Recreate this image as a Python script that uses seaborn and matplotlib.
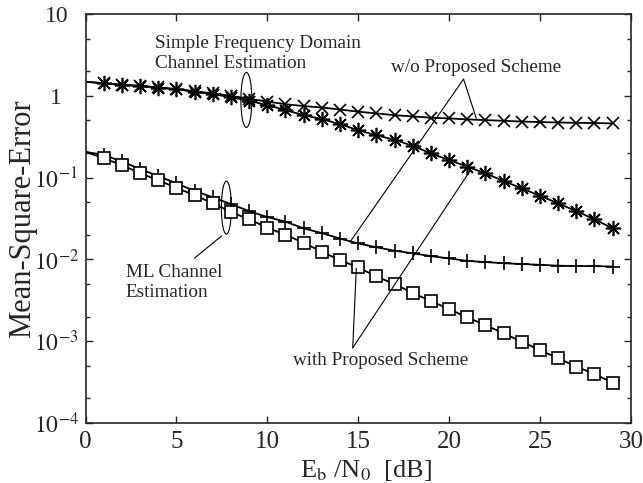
import numpy as np
import pandas as pd
import seaborn as sns
import matplotlib
matplotlib.use("Agg")
import matplotlib.pyplot as plt
from matplotlib.patches import Ellipse
from matplotlib.transforms import ScaledTranslation

# Eb/N0 in dB (line starts at 0, markers at 1..29)
snr = list(range(0, 30))

# simple frequency domain channel estimation, w/o proposed scheme (x)
simple_wo = [1.49, 1.42, 1.37, 1.32, 1.27, 1.21, 1.14, 1.07, 1.0, 0.92, 0.85,
             0.79, 0.75, 0.72, 0.68, 0.64, 0.61, 0.58, 0.56, 0.54, 0.53,
             0.515, 0.505, 0.495, 0.485, 0.478, 0.472, 0.468, 0.465, 0.46]
# simple frequency domain channel estimation, with proposed scheme (*)
simple_with = [1.49, 1.42, 1.36, 1.32, 1.26, 1.2, 1.12, 1.05, 0.96, 0.87, 0.77,
               0.67, 0.58, 0.52, 0.45, 0.38, 0.33, 0.29, 0.245, 0.198, 0.164,
               0.136, 0.113, 0.091, 0.074, 0.060, 0.0485, 0.039, 0.031, 0.024]
# ML channel estimation, w/o proposed scheme (+)
ml_wo = [0.207, 0.189, 0.158, 0.127, 0.105, 0.085, 0.069, 0.0575, 0.0475,
         0.039, 0.033, 0.029, 0.024, 0.021, 0.018, 0.0157, 0.0141, 0.0128,
         0.0119, 0.011, 0.0103, 0.0096, 0.0093, 0.0090, 0.0088, 0.0086,
         0.0084, 0.0083, 0.0083, 0.0082]
# ML channel estimation, with proposed scheme (squares)
ml_with = [0.207, 0.172, 0.143, 0.113, 0.093, 0.075, 0.061, 0.0487, 0.038,
           0.031, 0.0245, 0.020, 0.016, 0.0124, 0.0098, 0.0080, 0.0062,
           0.0050, 0.0039, 0.0031, 0.00248, 0.00196, 0.00158, 0.00125,
           0.00099, 0.00078, 0.00062, 0.00049, 0.0004, 0.00031]

ytick_vals = [1e-4, 1e-3, 1e-2, 1e-1, 1, 10]
ytick_labels = [r'$10^{-4}$', r'$10^{-3}$', r'$10^{-2}$', r'$10^{-1}$', '1', '10']

sns.set_style("ticks", {"xtick.direction": "in", "ytick.direction": "in"})
plt.rcParams['font.family'] = ['Liberation Serif', 'DejaVu Serif']
plt.rcParams['mathtext.fontset'] = 'stix'

fig = plt.figure(figsize=(6.43, 4.83), dpi=100)
ax = fig.add_axes([0.133, 0.124, 0.848, 0.847])

marks = list(range(1, 30))
common = dict(color='k', lw=1.3, markeredgecolor='k', markeredgewidth=1.2,
              markevery=marks, sort=False, ax=ax)
sns.lineplot(x=snr, y=simple_wo, marker='x', markersize=9, **common)
sns.lineplot(x=snr, y=simple_with, marker=(8, 2, 0), markersize=11, **common)
sns.lineplot(x=snr, y=ml_wo, marker='+', markersize=10, **common)
sns.lineplot(x=snr, y=ml_with, marker='s', markersize=8.5,
             markerfacecolor='white', **common)

ax.set_yscale('log')
ax.set_xlim(0, 30)
ax.set_ylim(1e-4, 10)
ax.set_xticks([0, 5, 10, 15, 20, 25, 30])
ax.set_yticks(ytick_vals)
ax.set_yticklabels(ytick_labels)
ax.yaxis.set_minor_locator(matplotlib.ticker.LogLocator(base=10, subs=[2, 5]))
ax.yaxis.set_minor_formatter(matplotlib.ticker.NullFormatter())
ax.tick_params(which='both', direction='in', top=True, right=True,
               labelsize=18, width=1.0)
ax.tick_params(which='major', length=5)
ax.tick_params(which='minor', length=3)
ax.tick_params(axis='x', pad=6)
ax.tick_params(axis='y', labelsize=17, pad=21)
for lbl in ax.get_yticklabels():
    lbl.set_ha('center')
for s in ax.spines.values():
    s.set_linewidth(1.2)
    s.set_visible(True)

ax.set_xlabel(r'E$_{\rm b}$ /N$_0$  [dB]', fontsize=19, labelpad=3, x=0.515)
ax.set_ylabel('Mean-Square-Error', fontsize=22)
ax.yaxis.set_label_coords(-0.088, 0.5)

# annotations
fs = 13.8
ax.text(3.85, 3.3, 'Simple Frequency Domain\nChannel Estimation',
        fontsize=fs, va='center', ha='left', linespacing=1.2)
ax.text(16.8, 2.2, 'w/o Proposed Scheme', fontsize=fs, va='center', ha='left')
ax.text(2.2, 0.0052, 'ML Channel\nEstimation', fontsize=fs, va='center',
        ha='left', linespacing=1.2)
ax.text(11.4, 0.00059, 'with Proposed Scheme', fontsize=fs, va='center',
        ha='left')

lw = 0.8
ax.plot([20.8, 21.5], [1.6, 0.53], color='k', lw=lw)
ax.plot([20.8, 14.55], [1.6, 0.0163], color='k', lw=lw)
ax.plot([14.7, 14.9], [0.00083, 0.0078], color='k', lw=lw)
ax.plot([14.7, 21.15], [0.00083, 0.1205], color='k', lw=lw)
ax.plot([7.5, 6.0], [0.0195, 0.0104], color='k', lw=lw)

for cx, cy, w, h in [(8.85, 0.89, 0.11, 0.55), (7.75, 0.043, 0.10, 0.53)]:
    tr = fig.dpi_scale_trans + ScaledTranslation(cx, cy, ax.transData)
    ax.add_patch(Ellipse((0, 0), w, h, transform=tr, fill=False,
                         edgecolor='k', lw=0.8))

fig.savefig('out.png', dpi=100)
